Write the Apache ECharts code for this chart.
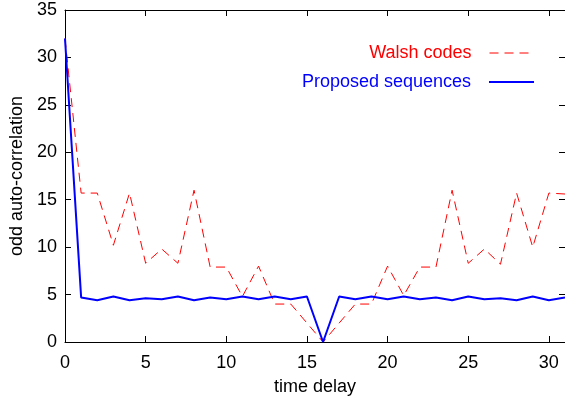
<!DOCTYPE html>
<html><head><meta charset="utf-8">
<script src="https://cdn.jsdelivr.net/npm/echarts@6/dist/echarts.min.js"></script>
<style>html,body{margin:0;padding:0;background:#fff}#c{width:565px;height:401px}</style>
</head><body><div id="c"></div>
<script>
const delays = [0,1,2,3,4,5,6,7,8,9,10,11,12,13,14,15,16,17,18,19,20,21,22,23,24,25,26,27,28,29,30,31];
const walsh = [32,15.7,15.7,10.2,15.7,8.3,9.8,8.3,16,7.9,7.9,4.8,8,4,4,2,0,2,4,4,8,4.9,7.9,7.9,16,8.3,9.8,8.2,15.7,10,15.7,15.6];
const proposed = [32,4.7,4.4,4.8,4.4,4.6,4.5,4.8,4.4,4.7,4.5,4.8,4.5,4.8,4.5,4.8,0,4.8,4.5,4.8,4.5,4.8,4.5,4.7,4.4,4.8,4.5,4.6,4.4,4.8,4.4,4.7];
const xTicks = {min:0, max:31, interval:5};
const yTicks = {min:0, max:35, interval:5};
const names = ['Walsh codes','Proposed sequences'];

const font = 'Liberation Sans, Arial, Helvetica, sans-serif';
const chart = echarts.init(document.getElementById('c'), null, {renderer:'canvas'});
const axisBase = {
  axisLine:{show:true, onZero:false, lineStyle:{color:'#000', width:1}},
  axisTick:{show:true, inside:true, length:6, lineStyle:{color:'#000', width:1}},
  splitLine:{show:false}
};
const legendBase = {right:25, orient:'vertical', align:'right', itemWidth:45, itemHeight:14,
  itemStyle:{opacity:0}};
chart.setOption({
  animation:false,
  grid:{left:63, top:10, right:0, bottom:59, containLabel:false},
  legend:[
    Object.assign({data:[names[0]], top:39,
     lineStyle:{color:'#ff0000', width:1, type:[9,6]},
     textStyle:{color:'#ff0000', fontSize:18, fontFamily:font, padding:[0,13,0,0]}}, legendBase),
    Object.assign({data:[names[1]], top:68,
     lineStyle:{color:'#0000ff', width:2},
     textStyle:{color:'#0000ff', fontSize:18, fontFamily:font, padding:[0,13,0,0]}}, legendBase)
  ],
  xAxis:[
    Object.assign({type:'value', position:'bottom', min:xTicks.min, max:xTicks.max, interval:xTicks.interval,
      name:'time delay', nameLocation:'middle', nameGap:36,
      nameTextStyle:{color:'#000', fontSize:18, fontFamily:font},
      axisLabel:{color:'#000', fontSize:18, fontFamily:font, margin:12}}, axisBase),
    Object.assign({type:'value', position:'top', min:xTicks.min, max:xTicks.max, interval:xTicks.interval,
      axisLabel:{show:false}}, axisBase)
  ],
  yAxis:[
    Object.assign({type:'value', position:'left', min:yTicks.min, max:yTicks.max, interval:yTicks.interval,
      name:'odd auto-correlation', nameLocation:'middle', nameGap:39,
      nameTextStyle:{color:'#000', fontSize:18, fontFamily:font},
      axisLabel:{color:'#000', fontSize:18, fontFamily:font, margin:8}}, axisBase),
    Object.assign({type:'value', position:'right', min:yTicks.min, max:yTicks.max, interval:yTicks.interval,
      axisLabel:{show:false}}, axisBase)
  ],
  series:[
    {name:names[0], type:'line', xAxisIndex:0, yAxisIndex:0, showSymbol:false, symbol:'none',
     data:delays.map((d,i)=>[d,walsh[i]]),
     lineStyle:{color:'#ff0000', width:1, type:[9,6]}, itemStyle:{color:'#ff0000'}, z:2},
    {name:names[1], type:'line', xAxisIndex:0, yAxisIndex:0, showSymbol:false, symbol:'none',
     data:delays.map((d,i)=>[d,proposed[i]]),
     lineStyle:{color:'#0000ff', width:2}, itemStyle:{color:'#0000ff'}, z:3}
  ]
});
</script></body></html>
